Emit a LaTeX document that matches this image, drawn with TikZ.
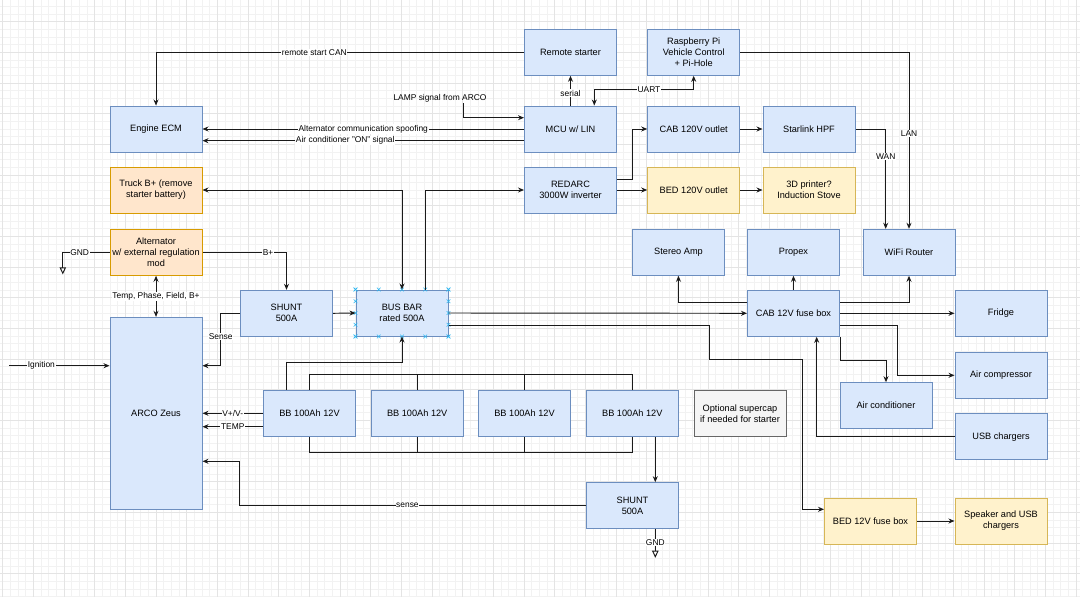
\documentclass[tikz,border=0pt]{standalone}
\usepackage{fontspec}
\setmainfont{Liberation Sans}
\usetikzlibrary{arrows.meta,calc,shapes.misc}
\definecolor{bluefill}{HTML}{DAE8FC}
\definecolor{blueline}{HTML}{6C8EBF}
\definecolor{orfill}{HTML}{FFE6CC}
\definecolor{orline}{HTML}{D79B00}
\definecolor{yefill}{HTML}{FFF2CC}
\definecolor{yeline}{HTML}{D6B656}
\definecolor{grfill}{HTML}{F5F5F5}
\definecolor{grline}{HTML}{666666}
\definecolor{gridminor}{HTML}{F2F2F2}
\definecolor{gridmajor}{HTML}{E4E4E4}
\definecolor{handlecol}{HTML}{29B6F2}
\definecolor{wirecol}{HTML}{1A1A1A}
\tikzset{
 blk/.style={draw=blueline, fill=bluefill, line width=1pt, minimum width=92pt, minimum height=46pt, inner sep=1pt, align=center, font=\fontsize{9.2}{11}\selectfont, text=black},
 orbox/.style={blk, draw=orline, fill=orfill},
 yebox/.style={blk, draw=yeline, fill=yefill},
 grbox/.style={blk, draw=grline, fill=grfill},
 wire/.style={line width=0.95pt, draw=wirecol},
 arr/.style={wire, -{Stealth[length=6pt,width=5pt]}},
 barr/.style={wire, {Stealth[length=6pt,width=5pt]}-{Stealth[length=6pt,width=5pt]}},
 elabel/.style={fill=white, inner sep=0.6pt, font=\fontsize{8.4}{10}\selectfont, text=black},
 hnd/.style={cross out, draw=handlecol, line width=0.5pt, minimum size=3.2pt, inner sep=0pt},
}
\begin{document}
\begin{tikzpicture}[x=1pt,y=-1pt]
\useasboundingbox (0,0) rectangle (1080,597);
\fill[white] (0,0) rectangle (1080,597);
% grid
\foreach \i in {0,...,140} \draw[gridminor, line width=0.5pt] ({2.667+7.6667*\i},0) -- ({2.667+7.6667*\i},597);
\foreach \j in {0,...,77} \draw[gridminor, line width=0.5pt] (0,{6.333+7.6667*\j}) -- (1080,{6.333+7.6667*\j});
\foreach \i in {0,...,35} \draw[gridmajor, line width=0.6pt] ({2.667+30.6667*\i},0) -- ({2.667+30.6667*\i},597);
\foreach \j in {0,...,19} \draw[gridmajor, line width=0.6pt] (0,{21.667+30.6667*\j}) -- (1080,{21.667+30.6667*\j});

% nodes
\node[blk] (ecm) at (156,129) {Engine ECM};
\node[orbox] (truck) at (156,190) {Truck B+ (remove\\starter battery)};
\node[orbox] (alt) at (156,252.3) {Alternator\\w/ external regulation\\mod};
\node[blk, minimum height=192pt] (arco) at (156,413.3) {ARCO Zeus};
\node[blk] (rs) at (570.5,52.3) {Remote starter};
\node[blk] (rpi) at (693.7,52.3) {Raspberry Pi\\Vehicle Control\\+ Pi-Hole};
\node[blk] (mcu) at (570.5,129) {MCU w/ LIN};
\node[blk] (cab120) at (693.7,129) {CAB 120V outlet};
\node[blk] (starlink) at (809,129) {Starlink HPF};
\node[blk] (redarc) at (570.5,190) {REDARC\\3000W inverter};
\node[yebox] (bed120) at (693.7,190) {BED 120V outlet};
\node[yebox] (printer) at (809,190) {3D printer?\\Induction Stove};
\node[blk] (amp) at (678.5,252.3) {Stereo Amp};
\node[blk] (propex) at (793.5,252.3) {Propex};
\node[blk] (wifi) at (909,252.3) {WiFi Router};
\node[blk] (shunt1) at (286.5,313.3) {SHUNT\\500A};
\node[blk] (bus) at (402,313) {BUS BAR\\rated 500A};
\node[blk] (fuse) at (793.5,313.3) {CAB 12V fuse box};
\node[blk] (fridge) at (1001,313.3) {Fridge};
\node[blk] (aircomp) at (1001,375.3) {Air compressor};
\node[blk] (aircond) at (886,405.7) {Air conditioner};
\node[blk] (usb) at (1001,436.7) {USB chargers};
\node[blk] (bb1) at (309.5,413.3) {BB 100Ah 12V};
\node[blk] (bb2) at (417.2,413.3) {BB 100Ah 12V};
\node[blk] (bb3) at (524.5,413.3) {BB 100Ah 12V};
\node[blk] (bb4) at (632.3,413.3) {BB 100Ah 12V};
\node[grbox] (supercap) at (740,413.3) {Optional supercap\\if needed for starter};
\node[blk] (shunt2) at (632.5,505.7) {SHUNT\\500A};
\node[yebox] (bed12) at (870.5,521) {BED 12V fuse box};
\node[yebox] (speaker) at (1001,521) {Speaker and USB\\chargers};

% bus bar selection handles
\foreach \t in {0,0.25,0.5,0.75,1} {
  \node[hnd] at ($(bus.north west)!\t!(bus.north east)$) {};
  \node[hnd] at ($(bus.south west)!\t!(bus.south east)$) {};
  \node[hnd] at ($(bus.north west)!\t!(bus.south west)$) {};
  \node[hnd] at ($(bus.north east)!\t!(bus.south east)$) {};
}

% control connectors
\draw[arr] (rs.west) -| node[elabel, pos=0.285]{remote start CAN} (ecm.north);
\draw[arr] (mcu.west) -- node[elabel, pos=0.5]{Alternator communication spoofing} (ecm.east);
\draw[arr] ([yshift=-11.7pt]mcu.west) -- node[elabel, pos=0.556]{Air conditioner "ON" signal} ([yshift=-11.7pt]ecm.east);
\draw[arr] (mcu.north) -- node[elabel, pos=0.42]{serial} (rs.south);
\draw[barr] ([xshift=23.8pt]mcu.north) -- ++(0,-15.7) -| node[elabel, pos=0.275]{UART} (rpi.south);
\node[inner sep=1pt, font=\fontsize{8.4}{10}\selectfont] (lamp) at (440,98.3) {LAMP signal from ARCO};
\draw[arr] ([xshift=23.7pt]lamp.south) |- ([yshift=11.3pt]mcu.west);

% 120V side
\draw[arr] ([yshift=10.7pt]redarc.east) -- ++(15.3,0) |- (cab120.west);
\draw[arr] (redarc.east) -- (bed120.west);
\draw[arr] (cab120.east) -- (starlink.west);
\draw[arr] (bed120.east) -- (printer.west);
\draw[arr] (rpi.east) -| node[elabel, pos=0.73]{LAN} (wifi.north);
\draw[arr] (starlink.east) -| node[elabel, pos=0.64]{WAN} ([xshift=-23.3pt]wifi.north);

% 12V fuse box
\draw[arr] (fuse.north) -- (propex.south);
\draw[arr] ([yshift=11.3pt]fuse.west) -| (amp.south);
\draw[arr] ([yshift=11.3pt]fuse.east) -| (wifi.south);
\draw[arr] (bus.east) -- (fuse.west);
\draw[arr] (fuse.east) -- (fridge.west);
\draw[arr] ([yshift=-12pt]fuse.east) -- ++(57.3,0) |- (aircomp.west);
\draw[arr] (fuse.south east) -- ++(0,23.4) -| (aircond.north);
\draw[arr] (usb.west) -| ([xshift=23.2pt]fuse.south);
\draw[arr] ([yshift=-12pt]bus.east) -- ++(261.3,0) -- ++(0,34.4) -- ++(92.7,0) |- ([yshift=11.7pt]bed12.west);
\draw[arr] (bed12.east) -- (speaker.west);

% power side
\draw[arr] (shunt1.east) -- (bus.west);
\draw[arr] (alt.east) -| node[elabel, pos=0.39]{B+} (shunt1.north);
\draw[wire] (alt.west) -- node[elabel, pos=0.64]{GND} ++(-46.7,0) -- ++(0,15.5) coordinate (g1);
\draw[wire] (g1) -- ++(-2.6,0) -- ++(2.6,5.5) -- ++(2.6,-5.5) -- cycle;
\draw[barr] (truck.east) -| (bus.north);
\draw[arr] ([xshift=23pt]bus.north) |- (redarc.west);
\draw[barr] (alt.south) -- node[elabel]{Temp, Phase, Field, B+} (arco.north);
\draw[arr] (shunt1.west) -- ++(-19.3,0) -- node[elabel, pos=0.45]{Sense} ++(0,52.4) -- ([yshift=47.6pt]arco.east);
\coordinate (ign) at (9.3,365.7);
\draw[arr] (ign) -- node[elabel, pos=0.32]{Ignition} ([yshift=47.6pt]arco.west);
\draw[arr] (bb1.west) -- node[elabel]{V+/V-} (arco.east);
\draw[arr] ([yshift=-13.4pt]bb1.west) -- node[elabel]{TEMP} ([yshift=-13.4pt]arco.east);

% battery parallel buses
\draw[wire] (bb1.north) -- ++(0,-15.3) -| (bb4.north);
\draw[wire] (bb2.north) -- ++(0,-15.3);
\draw[wire] (bb3.north) -- ++(0,-15.3);
\draw[wire] (bb1.south) -- ++(0,15.4) -| (bb4.south);
\draw[wire] (bb2.south) -- ++(0,15.4);
\draw[wire] (bb3.south) -- ++(0,15.4);
\draw[arr] ([xshift=-22.8pt]bb1.north) -- ++(0,-27) -| (bus.south);
\draw[arr] ([xshift=23pt]bb4.south) -- ([xshift=23pt]bb4.south |- shunt2.north);
\draw[wire] ([xshift=22.8pt]shunt2.south) -- node[elabel, pos=0.62]{GND} ++(0,22) coordinate (g2);
\draw[wire] (g2) -- ++(-2.6,0) -- ++(2.6,5.5) -- ++(2.6,-5.5) -- cycle;
\draw[arr] (shunt2.west) -- node[elabel, pos=0.515]{sense} ++(-346.7,0) |- ([yshift=-48pt]arco.east);
\end{tikzpicture}
\end{document}
